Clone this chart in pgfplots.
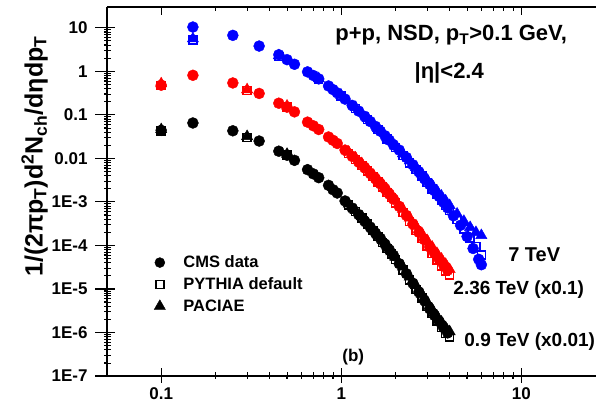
\documentclass[border=0pt]{standalone}
\usepackage{pgfplots}
\pgfplotsset{compat=1.18}
\usepackage{fontspec}
\setmainfont{Liberation Sans}
\definecolor{cblue}{RGB}{0,0,255}
\definecolor{cred}{RGB}{255,0,0}
\begin{document}
\begin{tikzpicture}
\useasboundingbox (-107pt,-29pt) rectangle (489pt,376pt);
% outward major ticks on the bottom
\begin{axis}[
  at={(0,0)}, anchor=south west,
  scale only axis, width=489pt, height=369pt,
  xmode=log, ymode=log,
  xmin=0.05, xmax=26, ymin=1e-7, ymax=30,
  axis x line*=bottom, axis y line*=left,
  axis line style={draw=none},
  xtick={0.1,1,10}, ytick=\empty,
  xticklabels={}, minor xtick={}, minor ytick={},
  tick align=outside, major tick length=7pt,
  tick style={line width=1.2pt, black},
]
\end{axis}
% outward major ticks on the left
\begin{axis}[
  at={(0,0)}, anchor=south west,
  scale only axis, width=489pt, height=369pt,
  xmode=log, ymode=log,
  xmin=0.05, xmax=26, ymin=1e-7, ymax=30,
  axis x line*=bottom, axis y line*=left,
  axis line style={draw=none},
  xtick=\empty, ytick={1e-7,1e-6,1e-5,1e-4,1e-3,1e-2,1e-1,1,10},
  yticklabels={}, minor xtick={}, minor ytick={},
  tick align=outside, major tick length=12pt,
  tick style={line width=1.2pt, black},
]
\end{axis}
\begin{axis}[
  at={(0,0)}, anchor=south west,
  scale only axis, width=489pt, height=369pt,
  xmode=log, ymode=log,
  xmin=0.05, xmax=26, ymin=1e-7, ymax=30,
  axis x line*=box, axis y line*=left,
  axis line style={line width=1.6pt},
  tick align=inside, major tick length=8pt, minor tick length=4.5pt,
  tick style={line width=1.1pt, black},
  minor tick style={line width=0.8pt},
  xtick={0.1,1,10}, xticklabels={0.1,1,10},
  ytick={1e-7,1e-6,1e-5,1e-4,1e-3,1e-2,1e-1,1,10},
  yticklabels={1E-7,1E-6,1E-5,1E-4,1E-3,0.01,0.1,1,10},
  ticklabel style={font=\fontsize{17pt}{19pt}\selectfont\bfseries},
  xticklabel style={yshift=-8pt},
  yticklabel style={anchor=east, xshift=-16pt},
  ylabel={1/(2πp\textsubscript{T})d\textsuperscript{2}N\textsubscript{ch}/dηdp\textsubscript{T}},
  ylabel style={at={(axis description cs:-0.148,0.595)}, anchor=center, font=\fontsize{25pt}{29pt}\selectfont\bfseries},
  legend style={at={(axis description cs:0.09,0.337)}, anchor=north west, draw=none, fill=none,
    font=\fontsize{16.5pt}{19pt}\selectfont\bfseries, row sep=4.5pt,
    /tikz/every odd column/.append style={column sep=16pt}},
  legend cell align=left,
  clip=false,
]
\addlegendimage{only marks, mark=*, mark size=5pt, black}
\addlegendentry{CMS data}
\addlegendimage{only marks, mark=square, mark size=4pt, line width=1.5pt, black}
\addlegendentry{PYTHIA default}
\addlegendimage{only marks, mark=triangle*, mark size=6.5pt, black}
\addlegendentry{PACIAE}

% ---------------- 7 TeV (blue)
\addplot[forget plot, only marks, mark=*, mark size=5.5pt, cblue] coordinates {
(0.15,10.4)(0.25,6.7)(0.35,3.8)(0.45,2.4)(0.5,1.85)(0.55,1.45)(0.65,0.97)(0.7,0.80)(0.75,0.67)
(0.85,0.46)(0.9,0.38)(0.95,0.32)(1.05,0.23)(1.15,0.165)(1.25,0.122)(1.35,0.092)(1.45,0.070)
(1.55,0.054)(1.65,0.042)(1.75,0.033)(1.85,0.026)(1.95,0.0205)(2.1,0.0155)(2.3,0.0105)(2.5,0.0071)
(2.7,0.0049)(2.9,0.0034)(3.1,0.0025)(3.3,0.0018)(3.5,0.00133)(3.7,0.00098)(3.9,0.00073)
(4.2,0.00048)(4.6,0.00029)(5.0,0.00016)(5.4,0.000085)(5.8,0.000048)(6.0,0.000036)};
\addplot[forget plot, only marks, mark=triangle*, mark size=6.5pt, cblue] coordinates {
(0.15,5.6)(0.45,2.3)(0.75,0.68)(1.0,0.28)(1.2,0.148)(1.4,0.083)(1.6,0.049)(1.8,0.030)(2.0,0.019)
(2.2,0.0128)(2.4,0.0088)(2.6,0.0062)(2.8,0.0044)(3.0,0.0032)(3.2,0.0024)(3.4,0.0018)(3.6,0.00137)
(3.8,0.00106)(4.0,0.00083)(4.4,0.00053)(4.8,0.00036)(5.2,0.00026)(5.6,0.00020)(6.0,0.00017)};
\addplot[forget plot, only marks, mark=square, mark size=4pt, line width=1.5pt, cblue] coordinates {
(0.15,5.2)(0.45,2.2)(0.75,0.65)(1.0,0.27)(1.2,0.140)(1.4,0.079)(1.6,0.046)(1.8,0.028)(2.0,0.0178)
(2.2,0.0117)(2.4,0.0079)(2.6,0.0055)(2.8,0.0039)(3.0,0.0028)(3.2,0.0020)(3.4,0.00148)(3.6,0.00110)
(3.8,0.00083)(4.0,0.00064)(4.4,0.00039)(4.8,0.00024)(5.2,0.00015)(5.6,0.000095)(6.0,0.000060)};

% ---------------- 2.36 TeV x0.1 (red)
\addplot[forget plot, only marks, mark=*, mark size=5.5pt, cred] coordinates {
(0.1,0.48)(0.15,0.81)(0.25,0.54)(0.35,0.31)(0.45,0.185)(0.5,0.150)(0.55,0.117)(0.65,0.068)
(0.7,0.056)(0.75,0.046)(0.85,0.031)(0.9,0.026)(0.95,0.022)(1.05,0.0155)(1.15,0.0112)(1.25,0.0082)
(1.35,0.0061)(1.45,0.0045)(1.55,0.0034)(1.65,0.0026)(1.75,0.0020)(1.85,0.00152)(1.95,0.00116)
(2.1,0.00079)(2.3,0.00049)(2.5,0.00031)(2.7,0.00020)(2.9,0.000135)(3.1,0.000092)(3.3,0.000066)
(3.5,0.000048)(3.7,0.000036)(3.9,0.000027)};
\addplot[forget plot, only marks, mark=triangle*, mark size=6.5pt, cred] coordinates {
(0.1,0.52)(0.3,0.38)(0.5,0.16)(1.1,0.0140)(1.2,0.0103)(1.3,0.0076)(1.4,0.0056)(1.5,0.0042)
(1.6,0.0032)(1.7,0.0025)(1.8,0.0019)(1.9,0.00145)(2.0,0.00112)(2.2,0.00068)(2.4,0.00043)
(2.6,0.00028)(2.8,0.00019)(3.0,0.00013)(3.2,0.000092)(3.4,0.000066)(3.6,0.000049)(3.8,0.000037)
(4.0,0.000028)};
\addplot[forget plot, only marks, mark=square, mark size=4pt, line width=1.5pt, cred] coordinates {
(0.1,0.47)(0.3,0.36)(0.5,0.15)(1.1,0.0128)(1.2,0.0094)(1.3,0.0069)(1.4,0.0051)(1.5,0.0038)
(1.6,0.0029)(1.7,0.0022)(1.8,0.00165)(1.9,0.00125)(2.0,0.00095)(2.2,0.00057)(2.4,0.00035)
(2.6,0.00022)(2.8,0.000145)(3.0,0.000096)(3.2,0.000066)(3.4,0.000046)(3.6,0.000034)(3.8,0.000026)
(4.0,0.000021)};

% ---------------- 0.9 TeV x0.01 (black)
\addplot[forget plot, only marks, mark=*, mark size=5.5pt, black] coordinates {
(0.1,0.044)(0.15,0.065)(0.25,0.043)(0.35,0.025)(0.45,0.0146)(0.5,0.0118)(0.55,0.0090)(0.65,0.0055)
(0.7,0.0044)(0.75,0.0036)(0.85,0.0024)(0.9,0.0019)(0.95,0.0016)(1.05,0.00105)(1.15,0.00072)
(1.25,0.00051)(1.35,0.00036)(1.45,0.00026)(1.55,0.00019)(1.65,0.000145)(1.75,0.000107)
(1.85,0.000079)(1.95,0.000059)(2.1,0.000038)(2.3,0.0000224)(2.5,0.0000135)(2.7,0.0000085)
(2.9,0.0000054)(3.1,0.0000035)(3.3,0.00000245)(3.5,0.00000178)(3.7,0.00000129)(3.9,0.00000098)};
\addplot[forget plot, only marks, mark=triangle*, mark size=6.5pt, black] coordinates {
(0.1,0.046)(0.3,0.032)(0.5,0.0125)(1.1,0.00090)(1.2,0.00064)(1.3,0.00046)(1.4,0.00033)(1.5,0.00024)
(1.6,0.000175)(1.7,0.00013)(1.8,0.000097)(1.9,0.000072)(2.0,0.000054)(2.2,0.000032)(2.4,0.000019)
(2.6,0.000012)(2.8,0.0000076)(3.0,0.0000050)(3.2,0.0000034)(3.4,0.0000024)(3.6,0.00000175)
(3.8,0.0000013)(4.0,0.00000105)};
\addplot[forget plot, only marks, mark=square, mark size=4pt, line width=1.5pt, black] coordinates {
(0.1,0.042)(0.3,0.030)(0.5,0.012)(1.1,0.00085)(1.2,0.00060)(1.3,0.00043)(1.4,0.00031)(1.5,0.00022)
(1.6,0.00016)(1.7,0.000117)(1.8,0.000086)(1.9,0.000063)(2.0,0.000047)(2.2,0.000027)(2.4,0.000016)
(2.6,0.0000098)(2.8,0.0000062)(3.0,0.0000040)(3.2,0.0000027)(3.4,0.00000185)(3.6,0.0000013)
(3.8,0.00000095)(4.0,0.00000078)};

% annotations
\node[font=\fontsize{22pt}{26pt}\selectfont\bfseries, anchor=center] at (axis cs:4.08,6.7) {p+p, NSD, p\textsubscript{T}>0.1 GeV,};
\node[font=\fontsize{22pt}{26pt}\selectfont\bfseries, anchor=center] at (axis cs:3.98,0.9) {|η|<2.4};
\node[font=\fontsize{20pt}{24pt}\selectfont\bfseries, anchor=center] at (axis cs:11.8,6.0e-5) {7 TeV};
\node[font=\fontsize{19pt}{22pt}\selectfont\bfseries, anchor=west, inner sep=0pt] at (axis cs:4.19,9.5e-6) {2.36 TeV (x0.1)};
\node[font=\fontsize{19pt}{22pt}\selectfont\bfseries, anchor=west, inner sep=0pt] at (axis cs:4.82,6.1e-7) {0.9 TeV (x0.01)};
\node[font=\fontsize{17pt}{20pt}\selectfont\bfseries, anchor=center] at (axis cs:1.166,2.75e-7) {(b)};
\end{axis}
\end{tikzpicture}
\end{document}
